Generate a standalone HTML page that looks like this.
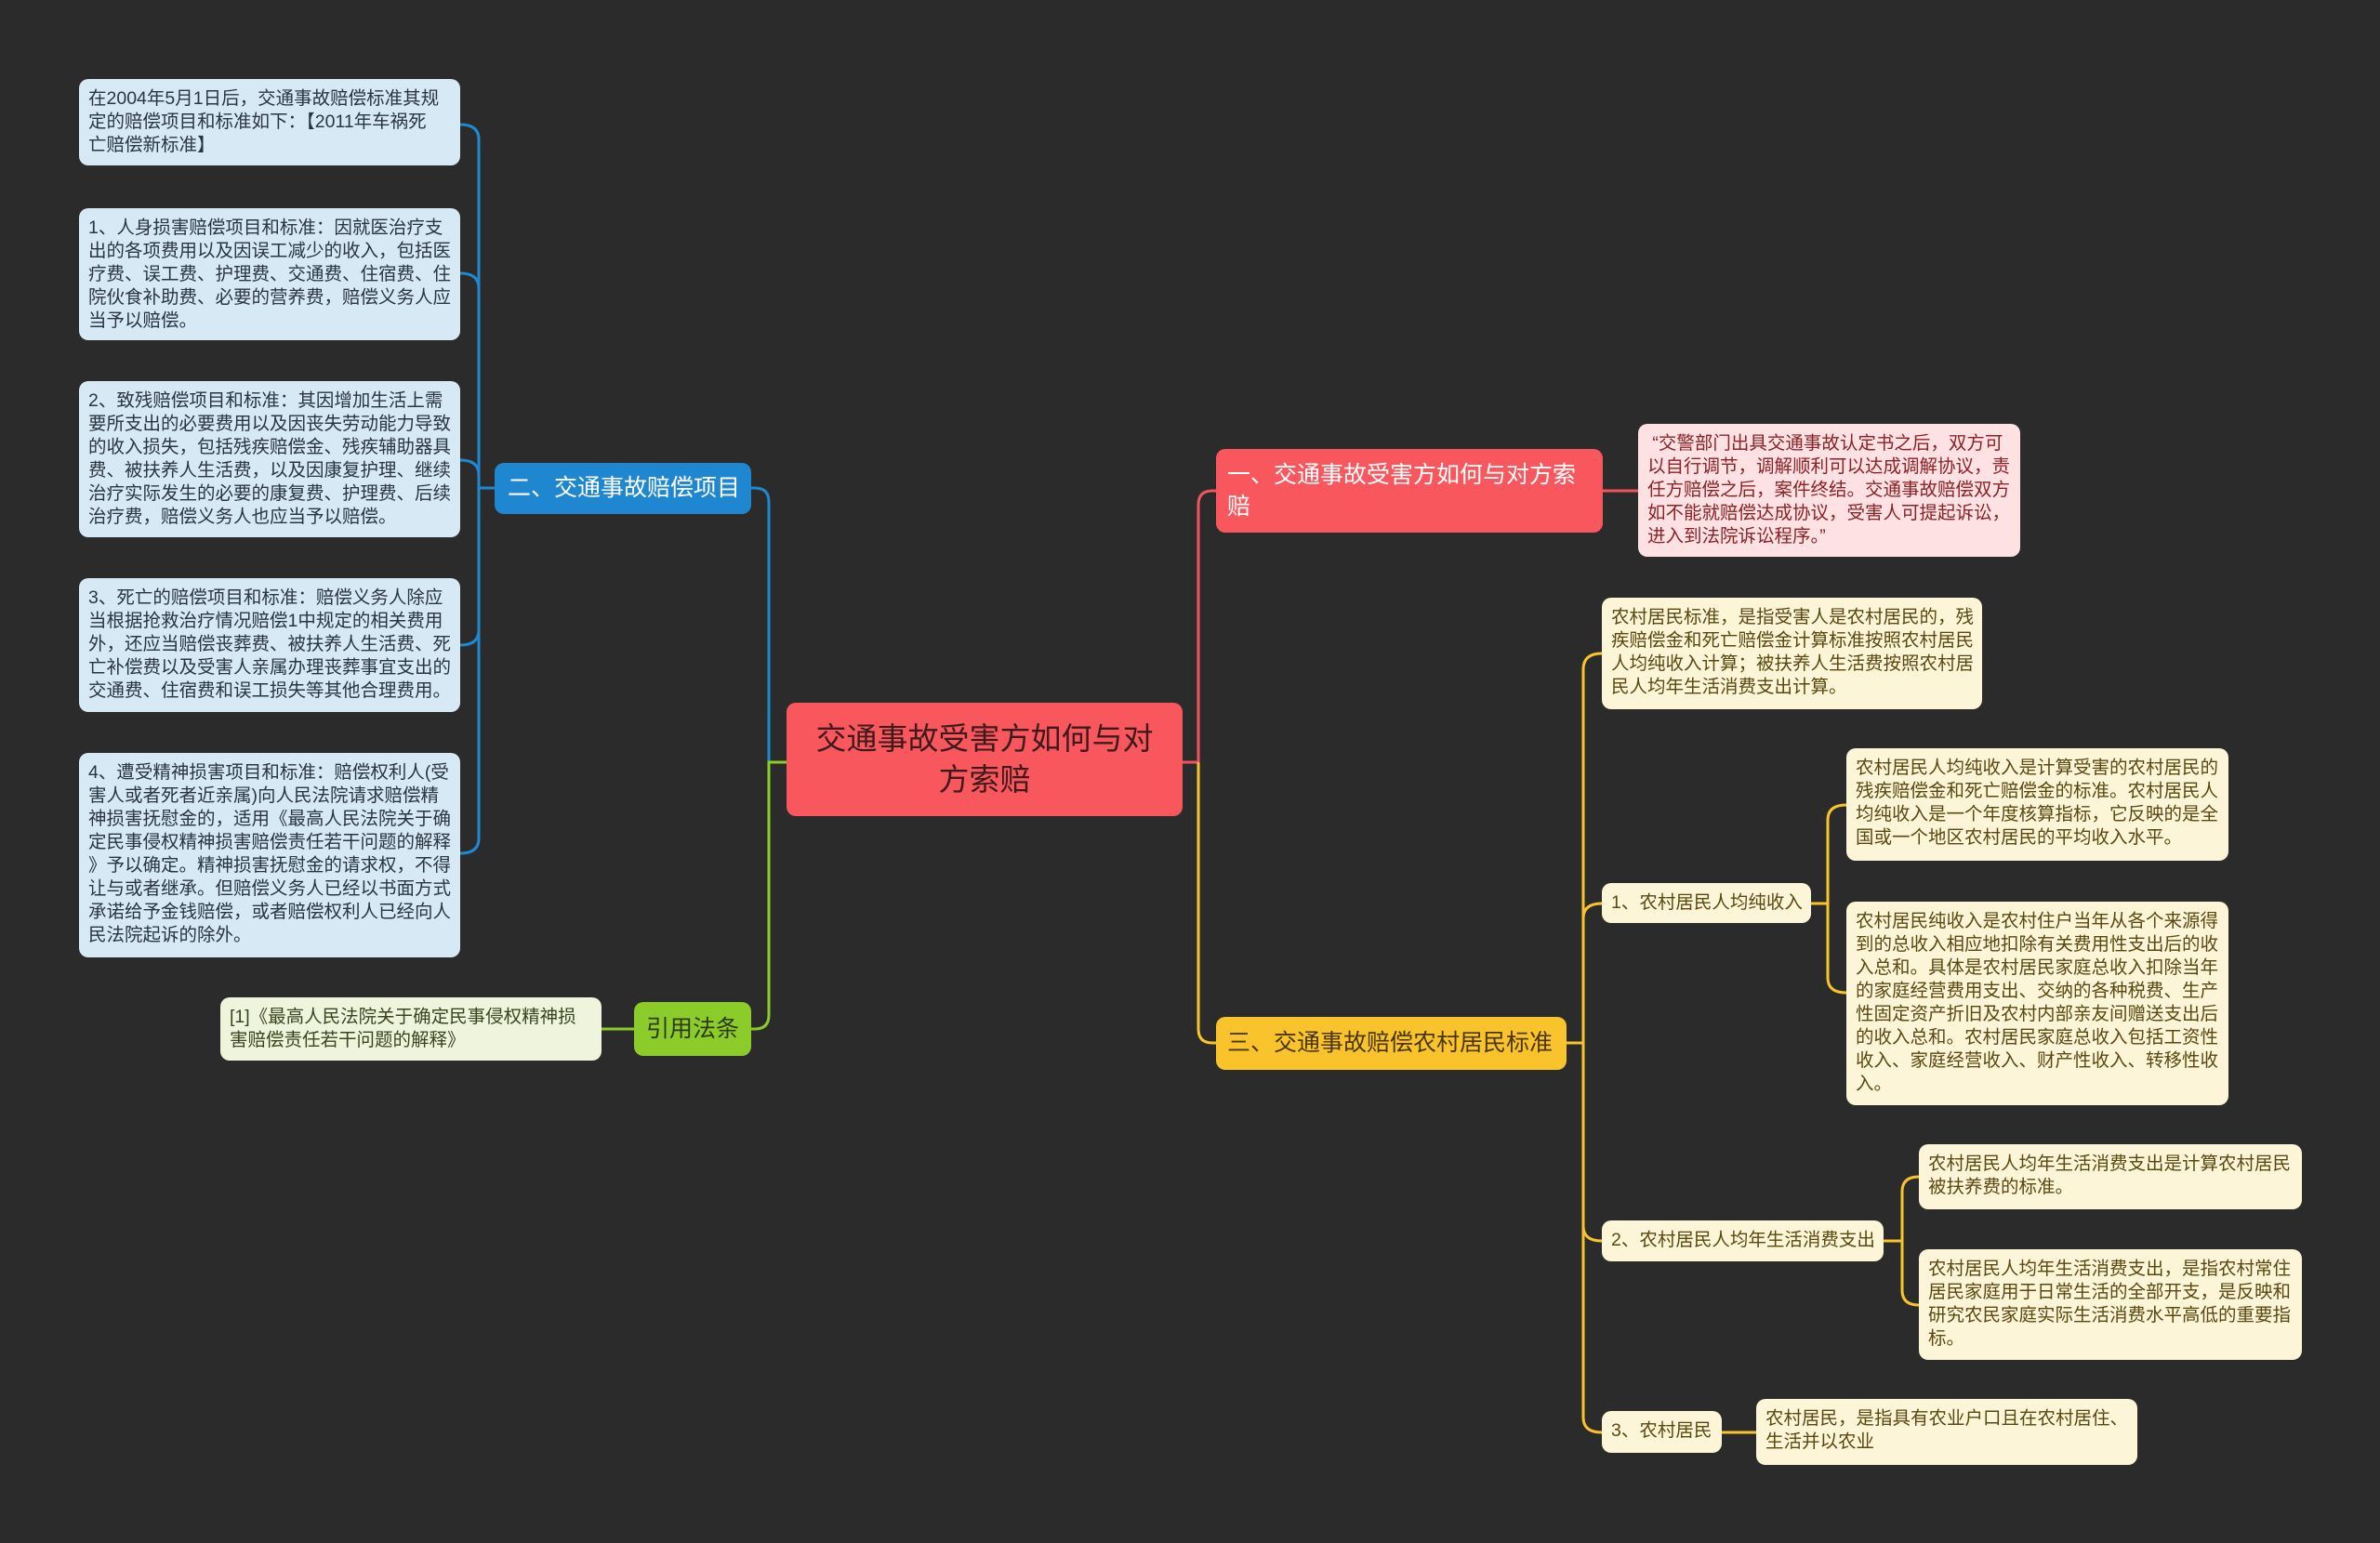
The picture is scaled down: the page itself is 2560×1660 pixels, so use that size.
<!DOCTYPE html>
<html><head><meta charset="utf-8">
<style>
body{margin:0;width:2560px;height:1660px;background:#2b2b2b;overflow:hidden;position:relative;font-family:"Liberation Sans","Noto Sans CJK SC",sans-serif;}
.n{position:absolute;box-sizing:border-box;border-radius:10px;white-space:nowrap;}
.lb{background:#d6e9f5;color:#2a3540;font-size:19.5px;line-height:25px;padding:9px 10px;}
.cr{background:#fdf5d8;color:#5a4810;font-size:19.5px;line-height:25px;padding:9px 10px;}
.pk{background:#fde1e3;color:#8a2226;font-size:19.5px;line-height:25px;padding:9px 10px;}
.gl{background:#eef5dc;color:#3a4520;font-size:19.5px;line-height:25px;padding:9px 10px;}
svg{position:absolute;left:0;top:0;}
</style></head><body>
<svg width="2560" height="1660" fill="none" stroke-width="3">
<path d="M1272 820 H1289" stroke="#f0545b"/>
<path d="M1289 820 V543 Q1289 528 1304 528 H1310" stroke="#f0545b"/>
<path d="M1289 820 V1107 Q1289 1122 1304 1122 H1310" stroke="#f9c42b"/>
<path d="M846 820 H827 V540 Q827 525 812 525 H806" stroke="#1e88d0"/>
<path d="M846 820 H827 V1092 Q827 1107 812 1107 H806" stroke="#8ccc2a"/>
<path d="M532 525 H515" stroke="#1e88d0"/>
<path d="M495 134 Q515 134 515 150 V902 Q515 918 495 918" stroke="#1e88d0"/>
<path d="M495 294 Q515 294 515 310" stroke="#1e88d0"/>
<path d="M495 495 Q515 495 515 511" stroke="#1e88d0"/>
<path d="M495 694 Q515 694 515 678" stroke="#1e88d0"/>
<path d="M682 1107 H647" stroke="#8ccc2a"/>
<path d="M1724 528 H1762" stroke="#f0545b"/>
<path d="M1685 1122 H1703" stroke="#f9c42b"/>
<path d="M1723 703 Q1703 703 1703 720 V1525 Q1703 1541 1723 1541" stroke="#f9c42b"/>
<path d="M1723 972 Q1703 972 1703 988" stroke="#f9c42b"/>
<path d="M1723 1335 Q1703 1335 1703 1319" stroke="#f9c42b"/>
<path d="M1948 972 H1966" stroke="#f9c42b"/>
<path d="M1986 866 Q1966 866 1966 882 V1052 Q1966 1068 1986 1068" stroke="#f9c42b"/>
<path d="M2026 1335 H2046" stroke="#f9c42b"/>
<path d="M2064 1266 Q2046 1266 2046 1282 V1388 Q2046 1404 2064 1404" stroke="#f9c42b"/>
<path d="M1852 1541 H1889" stroke="#f9c42b"/>
</svg>

<div class="n" style="left:846px;top:756px;width:426px;height:122px;background:#f7575d;color:#3f1a1c;font-size:33px;line-height:44px;text-align:center;padding-top:17px;">交通事故受害方如何与对<br>方索赔</div>

<div class="n" style="left:532px;top:498px;width:276px;height:55px;background:#1f87cf;color:#fff;font-size:25px;line-height:55px;padding-left:14px;">二、交通事故赔偿项目</div>
<div class="n" style="left:682px;top:1078px;width:126px;height:58px;background:#8bcb2a;color:#2c3a10;font-size:25px;line-height:58px;text-align:center;">引用法条</div>
<div class="n" style="left:1308px;top:483px;width:416px;height:90px;background:#f7575d;color:#fff;font-size:25px;line-height:34px;padding:11px 12px;">一、交通事故受害方如何与对方索<br>赔</div>
<div class="n" style="left:1308px;top:1094px;width:377px;height:57px;background:#f9c42b;color:#4a3608;font-size:25px;line-height:57px;padding-left:12px;">三、交通事故赔偿农村居民标准</div>

<div class="n lb" style="left:85px;top:85px;width:410px;height:93px;">在2004年5月1日后，交通事故赔偿标准其规<br>定的赔偿项目和标准如下：【2011年车祸死<br>亡赔偿新标准】</div>
<div class="n lb" style="left:85px;top:224px;width:410px;height:142px;">1、人身损害赔偿项目和标准：因就医治疗支<br>出的各项费用以及因误工减少的收入，包括医<br>疗费、误工费、护理费、交通费、住宿费、住<br>院伙食补助费、必要的营养费，赔偿义务人应<br>当予以赔偿。</div>
<div class="n lb" style="left:85px;top:410px;width:410px;height:168px;">2、致残赔偿项目和标准：其因增加生活上需<br>要所支出的必要费用以及因丧失劳动能力导致<br>的收入损失，包括残疾赔偿金、残疾辅助器具<br>费、被扶养人生活费，以及因康复护理、继续<br>治疗实际发生的必要的康复费、护理费、后续<br>治疗费，赔偿义务人也应当予以赔偿。</div>
<div class="n lb" style="left:85px;top:622px;width:410px;height:144px;">3、死亡的赔偿项目和标准：赔偿义务人除应<br>当根据抢救治疗情况赔偿1中规定的相关费用<br>外，还应当赔偿丧葬费、被扶养人生活费、死<br>亡补偿费以及受害人亲属办理丧葬事宜支出的<br>交通费、住宿费和误工损失等其他合理费用。</div>
<div class="n lb" style="left:85px;top:810px;width:410px;height:220px;">4、遭受精神损害项目和标准：赔偿权利人(受<br>害人或者死者近亲属)向人民法院请求赔偿精<br>神损害抚慰金的，适用《最高人民法院关于确<br>定民事侵权精神损害赔偿责任若干问题的解释<br>》予以确定。精神损害抚慰金的请求权，不得<br>让与或者继承。但赔偿义务人已经以书面方式<br>承诺给予金钱赔偿，或者赔偿权利人已经向人<br>民法院起诉的除外。</div>
<div class="n gl" style="left:237px;top:1073px;width:410px;height:68px;">[1]《最高人民法院关于确定民事侵权精神损<br>害赔偿责任若干问题的解释》</div>

<div class="n pk" style="left:1762px;top:456px;width:411px;height:143px;">&nbsp;“交警部门出具交通事故认定书之后，双方可<br>以自行调节，调解顺利可以达成调解协议，责<br>任方赔偿之后，案件终结。交通事故赔偿双方<br>如不能就赔偿达成协议，受害人可提起诉讼，<br>进入到法院诉讼程序。”</div>
<div class="n cr" style="left:1723px;top:643px;width:409px;height:120px;">农村居民标准，是指受害人是农村居民的，残<br>疾赔偿金和死亡赔偿金计算标准按照农村居民<br>人均纯收入计算；被扶养人生活费按照农村居<br>民人均年生活消费支出计算。</div>
<div class="n cr" style="left:1723px;top:950px;width:225px;height:43px;">1、农村居民人均纯收入</div>
<div class="n cr" style="left:1986px;top:805px;width:411px;height:121px;">农村居民人均纯收入是计算受害的农村居民的<br>残疾赔偿金和死亡赔偿金的标准。农村居民人<br>均纯收入是一个年度核算指标，它反映的是全<br>国或一个地区农村居民的平均收入水平。</div>
<div class="n cr" style="left:1986px;top:970px;width:411px;height:219px;">农村居民纯收入是农村住户当年从各个来源得<br>到的总收入相应地扣除有关费用性支出后的收<br>入总和。具体是农村居民家庭总收入扣除当年<br>的家庭经营费用支出、交纳的各种税费、生产<br>性固定资产折旧及农村内部亲友间赠送支出后<br>的收入总和。农村居民家庭总收入包括工资性<br>收入、家庭经营收入、财产性收入、转移性收<br>入。</div>
<div class="n cr" style="left:1723px;top:1313px;width:303px;height:44px;">2、农村居民人均年生活消费支出</div>
<div class="n cr" style="left:2064px;top:1231px;width:412px;height:70px;">农村居民人均年生活消费支出是计算农村居民<br>被扶养费的标准。</div>
<div class="n cr" style="left:2064px;top:1344px;width:412px;height:119px;">农村居民人均年生活消费支出，是指农村常住<br>居民家庭用于日常生活的全部开支，是反映和<br>研究农民家庭实际生活消费水平高低的重要指<br>标。</div>
<div class="n cr" style="left:1723px;top:1518px;width:129px;height:45px;">3、农村居民</div>
<div class="n cr" style="left:1889px;top:1505px;width:410px;height:71px;">农村居民，是指具有农业户口且在农村居住、<br>生活并以农业</div>
</body></html>
